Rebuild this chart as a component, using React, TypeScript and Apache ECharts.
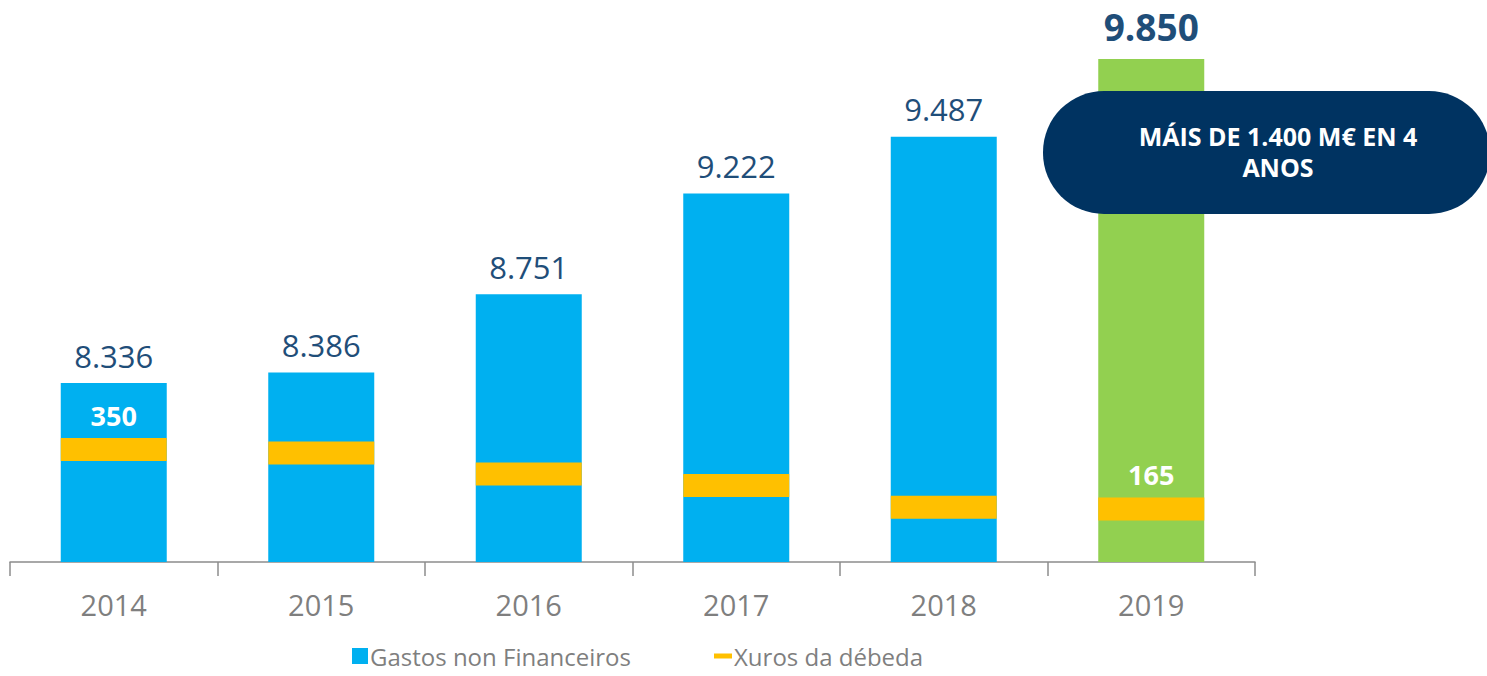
import React, { useEffect, useRef } from "react";
import * as echarts from "echarts";

const years = ["2014", "2015", "2016", "2017", "2018", "2019"];
const gastos = [8336, 8386, 8751, 9222, 9487, 9850];
const xuros = [350, 339, 274, 238, 170, 165];
const calloutText = "MÁIS DE 1.400 M€ EN 4\nANOS";

const FONT = "'Open Sans', 'Noto Sans', sans-serif";
const fmt = (v: number) => String(v).replace(/\B(?=(\d{3})+(?!\d))/g, ".");

export default function App() {
  const ref = useRef<HTMLDivElement>(null);
  useEffect(() => {
    document.body.style.margin = "0";
    const chart = echarts.init(ref.current!, null, { renderer: "svg" });
    const last = years.length - 1;
    const legendText = {
      color: "#7F7F7F",
      fontSize: 24,
      lineHeight: 24,
      fontFamily: FONT,
      padding: [0, 0, 0, -3],
    };
    chart.setOption({
      animation: false,
      textStyle: { fontFamily: FONT },
      grid: { left: 10, right: 232, top: 27, bottom: 114 },
      legend: [
        {
          data: [{ name: "Gastos non Financeiros", icon: "rect" }],
          left: 352,
          top: 644,
          padding: 0,
          itemWidth: 16,
          itemHeight: 16,
          textStyle: legendText,
        },
        {
          data: [{ name: "Xuros da débeda", icon: "rect" }],
          left: 714,
          top: 644,
          padding: 0,
          itemWidth: 18,
          itemHeight: 5,
          textStyle: legendText,
        },
      ],
      xAxis: {
        type: "category",
        data: years,
        axisLine: { lineStyle: { color: "#8C8C8C", width: 1.5 } },
        axisTick: { show: true, length: 14, lineStyle: { color: "#8C8C8C", width: 1.5 } },
        axisLabel: { color: "#7F7F7F", fontSize: 29, margin: 28, fontFamily: FONT },
      },
      yAxis: [
        { type: "value", min: 7500, max: 10000, show: false, splitLine: { show: false } },
        { type: "value", min: 0, max: 1664, show: false, splitLine: { show: false } },
      ],
      series: [
        {
          name: "Gastos non Financeiros",
          type: "bar",
          barWidth: 106,
          itemStyle: { color: "#00B0F0" },
          data: gastos.map((v, i) =>
            i === last
              ? {
                  value: v,
                  itemStyle: { color: "#92D050" },
                  label: { fontSize: 37, fontWeight: "bold", distance: 14 },
                }
              : v
          ),
          label: {
            show: true,
            position: "top",
            distance: 12,
            color: "#1F4E79",
            fontSize: 31,
            fontFamily: FONT,
            formatter: (p: any) => fmt(p.value),
          },
        },
        {
          name: "Xuros da débeda",
          type: "scatter",
          yAxisIndex: 1,
          symbol: "rect",
          symbolSize: [106, 23],
          itemStyle: { color: "#FFC000", opacity: 1 },
          z: 3,
          data: xuros.map((v, i) =>
            i === 0 || i === last
              ? {
                  value: v,
                  label: {
                    show: true,
                    position: "top",
                    distance: 9,
                    color: "#FFFFFF",
                    fontSize: 27,
                    fontWeight: "bold",
                    fontFamily: FONT,
                    formatter: (p: any) => fmt(p.value),
                  },
                }
              : v
          ),
        },
      ],
      graphic: [
        {
          type: "rect",
          shape: { x: 1043, y: 91, width: 447, height: 123, r: 61 },
          style: { fill: "#003361" },
          z: 10,
        },
        {
          type: "text",
          x: 1278,
          y: 151,
          z: 11,
          style: {
            text: calloutText,
            fill: "#FFFFFF",
            fontSize: 25,
            fontWeight: "bold",
            fontFamily: FONT,
            align: "center",
            verticalAlign: "middle",
            lineHeight: 31,
          },
        },
      ],
    });
    return () => chart.dispose();
  }, []);
  return <div ref={ref} style={{ width: 1487, height: 676 }} />;
}
